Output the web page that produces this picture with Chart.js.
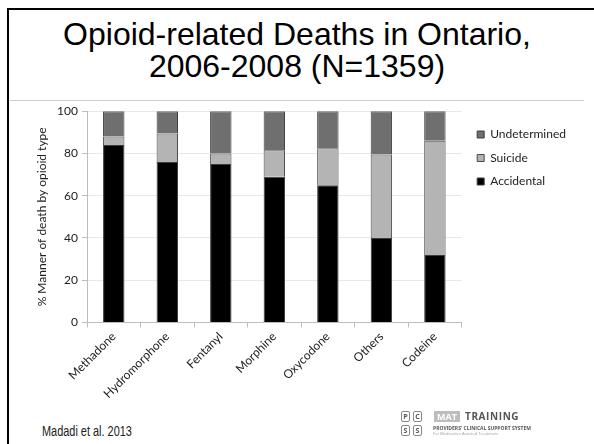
<!DOCTYPE html>
<html lang="en">
<head>
    <meta charset="UTF-8">
    <title>Opioid-related Deaths in Ontario</title>
    <script src="https://cdn.jsdelivr.net/npm/chart.js"></script>
    <style>
        html, body {
            margin: 0;
            padding: 0;
            background: #fff;
        }
        .slide {
            position: relative;
            width: 594px;
            height: 444px;
            overflow: hidden;
            background: #fff;
        }
        .frame-top {
            position: absolute;
            left: 7px;
            top: 8px;
            width: 590px;
            height: 2px;
            background: #000;
        }
        .frame-left {
            position: absolute;
            left: 7px;
            top: 8px;
            width: 2px;
            height: 440px;
            background: #000;
        }
        .title {
            position: absolute;
            left: 0;
            top: 18px;
            width: 594px;
            text-align: center;
            font-family: 'Liberation Sans', Arial, sans-serif;
            font-size: 32px;
            line-height: 32px;
            color: #000;
        }
        .rule {
            position: absolute;
            left: 9px;
            top: 100px;
            width: 575px;
            height: 1px;
            background: #cfcfcf;
        }
        .chart-box {
            position: absolute;
            left: 0;
            top: 100px;
            width: 594px;
            height: 310px;
        }
        .source {
            position: absolute;
            left: 42px;
            top: 423px;
            font-family: 'Liberation Sans Narrow', 'Liberation Sans', sans-serif;
            font-size: 14px;
            color: #222;
            transform: scaleX(0.78);
            transform-origin: left center;
            white-space: nowrap;
        }
        .logo > div {
            position: absolute;
            font-family: 'Open Sans', sans-serif;
            color: #555;
            white-space: nowrap;
        }
        .logo .sq {
            width: 7px;
            height: 9px;
            border: 1px solid #888;
            border-radius: 2px;
            font-size: 7px;
            font-weight: bold;
            line-height: 9px;
            text-align: center;
        }
        .logo .mat {
            background: #bdbdbd;
            color: #fff;
            font-size: 9px;
            font-weight: bold;
            width: 26px;
            text-align: center;
            line-height: 11px;
        }
        .logo .training {
            font-size: 10px;
            font-weight: bold;
            letter-spacing: 0.6px;
            line-height: 11px;
        }
        .logo .small1 {
            font-size: 5px;
            font-weight: bold;
            line-height: 5px;
        }
        .logo .small2 {
            font-size: 4px;
            line-height: 4px;
            color: #999;
        }
    </style>
</head>
<body>
    <div class="slide">
        <div class="frame-top"></div>
        <div class="frame-left"></div>
        <div class="title">Opioid-related Deaths in Ontario,<br>2006-2008 (N=1359)</div>
        <div class="rule"></div>
        <div class="chart-box">
            <canvas id="deathsChart"></canvas>
        </div>
        <div class="source">Madadi et al. 2013</div>
        <div class="logo">
            <div class="sq" style="left:401px; top:411px;">P</div>
            <div class="sq" style="left:413px; top:411px;">C</div>
            <div class="sq" style="left:401px; top:425px;">S</div>
            <div class="sq" style="left:413px; top:425px;">S</div>
            <div class="mat" style="left:434px; top:411px;">MAT</div>
            <div class="training" style="left:465px; top:411px;">TRAINING</div>
            <div class="small1" style="left:433px; top:426px;">PROVIDERS' CLINICAL SUPPORT SYSTEM</div>
            <div class="small2" style="left:433px; top:432px;">For Medication Assisted Treatment</div>
        </div>
    </div>

    <script>
        // opioid types along the x axis
        const opioids = ['Methadone', 'Hydromorphone', 'Fentanyl', 'Morphine', 'Oxycodone', 'Others', 'Codeine'];

        // % manner of death
        const accidental   = [84, 76, 75, 69, 65, 40, 32];
        const suicide      = [4, 13.5, 5, 12.5, 17.5, 39.5, 54];
        const undetermined = [12, 10.5, 20, 18.5, 17.5, 20.5, 14];

        const yTicks = [0, 20, 40, 60, 80, 100];

        const tickFont = { family: 'Lato', size: 12 };

        // push the legend a little down and right, like the slide
        const legendNudge = {
            id: 'legendNudge',
            afterLayout(chart) {
                chart.legend.top += 8;
                chart.legend.left += 4;
            }
        };

        new Chart(document.getElementById('deathsChart'), {
            type: 'bar',
            data: {
                labels: opioids,
                datasets: [{
                    label: 'Accidental',
                    data: accidental,
                    backgroundColor: '#000000',
                    borderColor: '#3c3c3c',
                    borderWidth: 1
                },
                {
                    label: 'Suicide',
                    data: suicide,
                    backgroundColor: '#b4b4b4',
                    borderColor: '#4a4a4a',
                    borderWidth: 1
                },
                {
                    label: 'Undetermined',
                    data: undetermined,
                    backgroundColor: '#6f6f6f',
                    borderColor: '#3c3c3c',
                    borderWidth: 1
                }]
            },
            options: {
                responsive: true,
                maintainAspectRatio: false,
                animation: false,
                datasets: {
                    bar: {
                        categoryPercentage: 1,
                        barPercentage: 0.4
                    }
                },
                layout: {
                    padding: { left: 35, top: 9, right: 22, bottom: 0 }
                },
                plugins: {
                    legend: {
                        position: 'right',
                        align: 'start',
                        reverse: true,
                        labels: {
                            font: tickFont,
                            color: '#222',
                            boxWidth: 7,
                            boxHeight: 7,
                            padding: 11.5
                        }
                    },
                    tooltip: { enabled: false }
                },
                scales: {
                    x: {
                        stacked: true,
                        afterFit: function (scale) {
                            scale.height = 87.5;
                            scale.paddingLeft = 0;
                            scale.paddingRight = 0;
                        },
                        grid: {
                            display: true,
                            drawOnChartArea: false,
                            color: '#bdbdbd',
                            tickLength: 5
                        },
                        border: { color: '#bdbdbd' },
                        ticks: {
                            font: tickFont,
                            color: '#222',
                            minRotation: 45,
                            maxRotation: 45,
                            padding: 2
                        }
                    },
                    y: {
                        stacked: true,
                        min: 0,
                        max: 100,
                        afterFit: function (scale) { scale.width = 52; },
                        afterBuildTicks: function (scale) {
                            scale.ticks = yTicks.map(v => ({ value: v }));
                        },
                        grid: {
                            color: '#e8e8e8',
                            tickColor: '#bdbdbd',
                            tickLength: 5
                        },
                        border: { color: '#bdbdbd' },
                        ticks: {
                            font: tickFont,
                            color: '#222',
                            padding: 4
                        },
                        title: {
                            display: true,
                            text: '% Manner of death by opioid type',
                            font: tickFont,
                            color: '#222',
                            padding: { top: 0, bottom: 0 }
                        }
                    }
                }
            },
            plugins: [legendNudge]
        });
    </script>
</body>
</html>
